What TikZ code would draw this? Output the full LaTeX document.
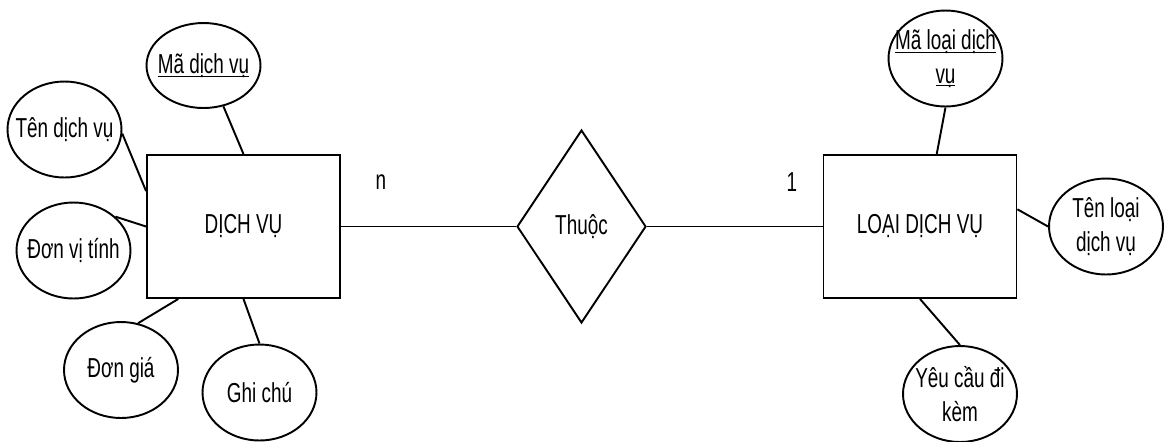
\documentclass[tikz,border=0pt]{standalone}
\usepackage{fontspec}
\setmainfont{Liberation Sans}[FakeStretch=0.69]
\usetikzlibrary{shapes.geometric}

\newcommand{\keyattr}[1]{\underline{\raisebox{0pt}[\height][0pt]{#1}}}

\tikzset{
  entity/.style={draw, rectangle, minimum width=3.86cm, minimum height=2.86cm, inner sep=0pt},
  relation/.style={draw, diamond, minimum width=2.58cm, minimum height=3.86cm, inner sep=0pt},
  attrib/.style={draw, ellipse, minimum width=2.28cm, minimum height=1.92cm, inner sep=0pt},
}

\begin{document}
\begin{tikzpicture}[x=0.02cm, y=-0.02cm, line width=1.1pt,
  font=\fontsize{15.6}{19}\selectfont]
\useasboundingbox (0,0) rectangle (1164,441);
% entities and relation
\node[entity] (dv) at (243.5,226.5) {DỊCH VỤ};
\node[entity] (ldv) at (920,226.5) {LOẠI DỊCH VỤ};
\node[relation] (thuoc) at (581.5,226.5) {Thuộc};
\node (cardn) at (381,182) {n};
\node (card1) at (792,182) {1};
% attributes of DICH VU
\node[attrib, minimum height=1.7cm, label={center:\keyattr{Mã dịch vụ}}] (mdv) at (203.5,65.5) {};
\node[attrib, label={center:Tên dịch vụ}] (tdv) at (64.5,129.5) {};
\node[attrib, label={center:Đơn vị tính}] (dvt) at (73.5,250.5) {};
\node[attrib, label={center:Đơn giá}] (dg) at (121,370) {};
\node[attrib, label={center:Ghi chú}] (gc) at (259.5,392.5) {};
% attributes of LOAI DICH VU
\node[attrib, label={[align=center]center:\keyattr{Mã loại dịch}\\\keyattr{vụ}}] (mldv) at (945.5,58.5) {};
\node[attrib, label={[align=center]center:Tên loại\\dịch vụ}] (tldv) at (1106,226.5) {};
\node[attrib, label={[align=center]center:Yêu cầu đi\\kèm}] (yc) at (960,394) {};
% links
\draw (dv.east) -- (thuoc.west);
\draw (thuoc.east) -- (ldv.west);
\draw (mdv.-64) -- (dv.north);
\draw (tdv.-4) -- (dv.160);
\draw (dvt.39) -- (dv.west);
\draw (dg.70) -- (dv.228);
\draw (gc.north) -- (dv.south);
\draw (mldv.south) -- (ldv.77);
\draw (tldv.west) -- (ldv.10);
\draw (yc.north) -- (ldv.south);
\end{tikzpicture}
\end{document}
